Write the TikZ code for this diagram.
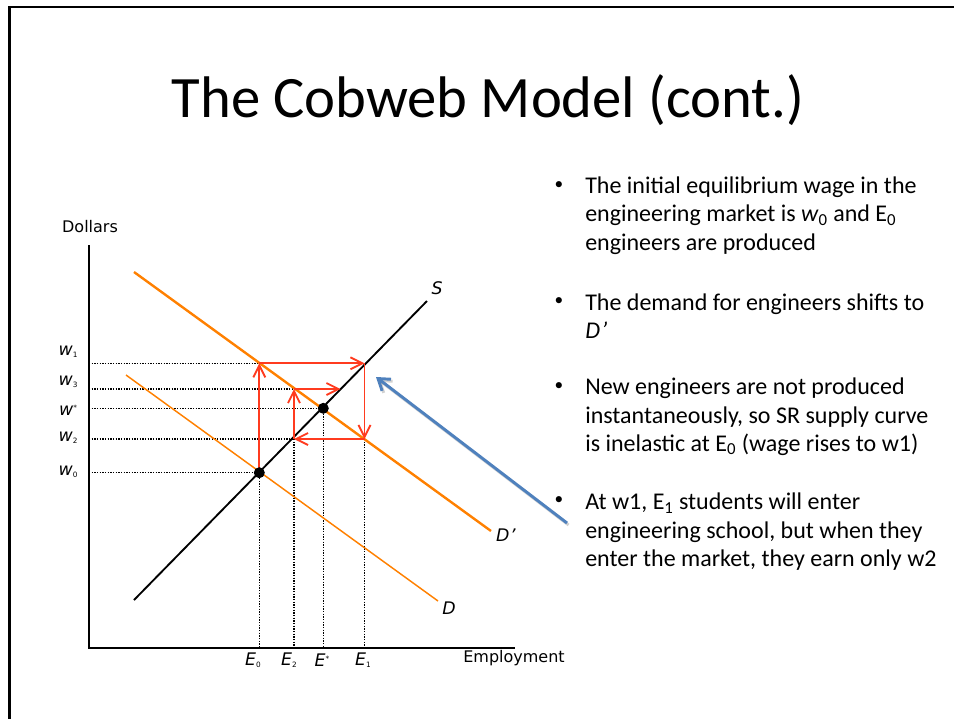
\documentclass[tikz,border=0pt]{standalone}
\usepackage{fontspec}
\setmainfont{Carlito}
\newfontfamily\plotfont{DejaVu Sans}
\usetikzlibrary{arrows.meta,positioning}
\definecolor{cobor}{HTML}{FF8000}
\definecolor{cobred}{HTML}{FF3B1F}
\definecolor{hint}{HTML}{4F81BD}
\definecolor{ink}{HTML}{000000}
\newcommand{\lo}[1]{\raisebox{-0.25ex}{\fontsize{5.5}{6}\selectfont\upshape #1}}
\newcommand{\hi}[1]{\raisebox{0.55ex}{\fontsize{5.5}{6}\selectfont\upshape #1}}

\begin{document}
\begin{tikzpicture}[x=0.75pt,y=-0.75pt,
  frame/.style={line width=1.9pt,ink},
  axis/.style={line width=1.1pt,ink},
  supply/.style={line width=1.4pt,ink},
  demand/.style={line width=1.1pt,cobor},
  demandnew/.style={line width=1.8pt,cobor},
  guide/.style={line width=0.9pt,ink,dash pattern=on 0.9pt off 1.1pt},
  move/.style={cobred,line width=1.4pt,-{Straight Barb[length=9pt,width=9pt]}},
  pointer/.style={hint,line width=2.2pt,-{Straight Barb[length=8pt,width=11pt]}},
  lab/.style={font=\plotfont\fontsize{12}{14}\selectfont,inner sep=0pt},
  ilab/.style={font=\plotfont\itshape\fontsize{13}{15}\selectfont,inner sep=0pt},
  title/.style={font=\fontsize{44}{52}\selectfont,inner sep=0pt},
  txt/.style={font=\fontsize{18}{21.3}\selectfont,align=left,anchor=base west,inner sep=0pt},
  bul/.style={font=\fontsize{13}{15}\selectfont,inner sep=0pt}]
\useasboundingbox (0,0) rectangle (954,719);
\draw[frame] (954,7) -- (9.5,7) -- (9.5,719);
\node[title] (head) at (488,100) {The Cobweb Model (cont.)};
\coordinate (o) at (89,648);
\coordinate (ytop) at (89,245);
\coordinate (xend) at (515,648);
\coordinate (s0) at (134,600);
\coordinate (s1) at (427,301);
\coordinate (dn0) at (134,272);
\coordinate (dn1) at (491,531);
\coordinate (d0) at (126,375);
\coordinate (d1) at (438,601);
\coordinate (p0) at (259.3,472.7);
\coordinate (p1) at (259.3,363.3);
\coordinate (p2) at (364.5,363.3);
\coordinate (p3) at (364.5,439);
\coordinate (p4) at (294,439);
\coordinate (p5) at (294,389);
\coordinate (p6) at (340.5,389);
\coordinate (pe) at (323.3,408.3);
\draw[guide] (p1 -| o) -- (p1);
\draw[guide] (p5 -| o) -- (p5);
\draw[guide] (pe -| o) -- (pe);
\draw[guide] (p4 -| o) -- (p4);
\draw[guide] (p0 -| o) -- (p0);
\draw[guide] (p0) -- (p0 |- o);
\draw[guide] (p4) -- (p4 |- o);
\draw[guide] (pe) -- (pe |- o);
\draw[guide] (p3) -- (p3 |- o);
\draw[axis] (ytop) -- (o) -- (xend);
\draw[demand] (d0) -- (d1);
\draw[demandnew] (dn0) -- (dn1);
\draw[supply] (s0) -- (s1);
\draw[move] (p0) -- (p1);
\draw[move] (p1) -- (p2);
\draw[move] (p2) -- (p3);
\draw[move] (p3) -- (p4);
\draw[move] (p4) -- (p5);
\draw[move] (p5) -- (p6);
\fill[ink] (p0) circle (5.5);
\fill[ink] (pe) circle (5.5);
\node[lab] (dol) at (90,227) {Dollars};
\node[lab] (emp) at (514,658) {Employment};
\node[ilab] (ls) at (437,288) {S};
\node[ilab] (ldn) at (506,535) {D\kern0.5pt\textquoteright};
\node[ilab] (ld) at (449,608) {D};
\node[ilab] (lw1) at (68,352) {w\lo{1}};
\node[ilab] (lw3) at (68,382) {w\lo{3}};
\node[ilab] (lws) at (68,410) {w\hi{*}};
\node[ilab] (lw2) at (68,438) {w\lo{2}};
\node[ilab] (lw0) at (68,472) {w\lo{0}};
\node[ilab] (le0) at (253,660) {E\lo{0}};
\node[ilab] (le2) at (289,660) {E\lo{2}};
\node[ilab] (les) at (322,660) {E\hi{*}};
\node[ilab] (le1) at (363,660) {E\lo{1}};
\coordinate (hs) at (567,523);
\coordinate (ht) at (376,377);
\draw[pointer,black,opacity=0.18,transform canvas={shift={(1.2pt,-1.5pt)}}] (hs) -- (ht);
\draw[pointer] (hs) -- (ht);
\node[bul] (b1) at (559,186) {\textbullet};
\node[bul] (b2) at (559,302) {\textbullet};
\node[bul] (b3) at (559,387) {\textbullet};
\node[bul] (b4) at (559,501) {\textbullet};
\node[txt] (t1) at (585,250) {The initial equilibrium wage in the\\engineering market is \textit{w}\textsubscript{0} and E\textsubscript{0}\\engineers are produced};
\node[txt] (t2) at (585,338.5) {The demand for engineers shifts to\\\textit{D\kern1pt\textquoteright}};
\node[txt] (t3) at (585,451.5) {New engineers are not produced\\instantaneously, so SR supply curve\\is inelastic at E\textsubscript{0} (wage rises to w1)};
\node[txt] (t4) at (585,566.5) {At w1, E\textsubscript{1} students will enter\\engineering school, but when they\\enter the market, they earn only w2};
\end{tikzpicture}
\end{document}
